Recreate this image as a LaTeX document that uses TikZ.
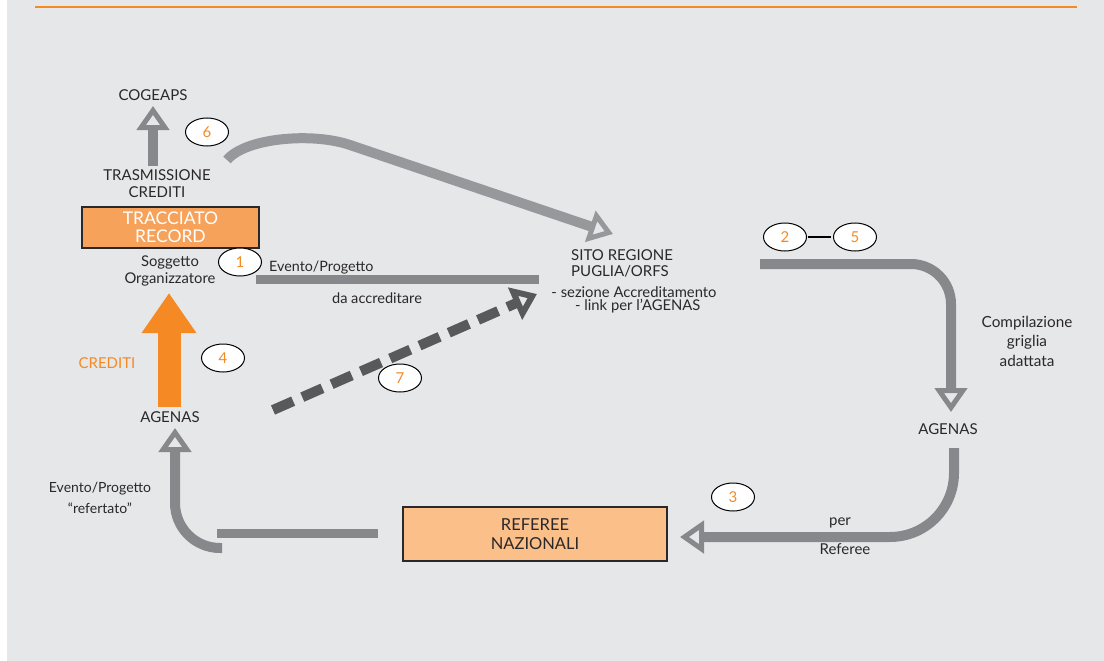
\documentclass[tikz,border=0pt]{standalone}
\usepackage{fontspec}
\setmainfont{Lato}
\usetikzlibrary{arrows.meta,shapes.geometric}
\definecolor{bg}{HTML}{E6E7E9}
\definecolor{org}{HTML}{F58A25}
\definecolor{boxorg}{HTML}{F7A25A}
\definecolor{boxlight}{HTML}{FBBF8A}
\definecolor{g1}{HTML}{87888B}
\definecolor{g2}{HTML}{97989B}
\definecolor{gdark}{HTML}{58595B}
\definecolor{txtc}{HTML}{2A2829}
\begin{document}
\begin{tikzpicture}[x=1pt,y=-1pt,
  lbl/.style={text=txtc, font=\fontsize{15}{18}\selectfont, align=center, inner sep=0pt},
  num/.style={ellipse, draw=black, line width=1pt, fill=white, minimum width=43pt, minimum height=28pt, inner sep=0pt, text=org, font=\fontsize{15}{18}\selectfont},
  flowbox/.style={draw=txtc, line width=2pt, inner sep=0pt, align=center, font=\fontsize{16.5}{18}\selectfont},
  garrow/.style={draw=g1, line width=10pt, -{Triangle[open, length=24pt, width=32pt, line width=5pt]}},
  gline/.style={draw=g1, line width=9pt},
]
\useasboundingbox (0,0) rectangle (1104,661);
\fill[white] (0,0) rectangle (1104,661);
\fill[bg] (7,0) rectangle (1104,661);
\draw[org, line width=2pt] (35,7) -- (1077,7);

% text nodes
\node[lbl] (cogeaps) at (153,95) {COGEAPS};
\node[lbl] (trasm) at (157,184) {TRASMISSIONE\\[-1pt]CREDITI};
\node[flowbox, fill=boxorg, text=white, minimum width=177pt, minimum height=41pt, font=\fontsize{17.5}{18}\selectfont] (tracciato) at (170.5,227.5) {TRACCIATO\\RECORD};
\node[lbl, font=\fontsize{14.8}{16.5}\selectfont] (sogg) at (170,271) {Soggetto\\Organizzatore};
\node[lbl, anchor=west, font=\fontsize{14.3}{16}\selectfont] (evento) at (269,268) {Evento/Progetto};
\node[lbl, font=\fontsize{14.6}{16}\selectfont] (daacc) at (377,298) {da accreditare};
\node[lbl, align=left, anchor=west] (sito) at (571,263) {SITO REGIONE\\[-2pt]PUGLIA/ORFS};
\node[lbl, font=\fontsize{14.8}{13.5}\selectfont] (sez) at (634,300) {- sezione Accreditamento\\\ \ - link per l’AGENAS};
\node[lbl, font=\fontsize{15.3}{19.5}\selectfont] (compil) at (1027,341) {Compilazione\\griglia\\adattata};
\node[lbl] (agenasR) at (948,429) {AGENAS};
\node[lbl, font=\fontsize{15}{16}\selectfont] (per) at (840,523) {per};
\node[lbl, font=\fontsize{15}{16}\selectfont] (referee) at (845,549) {Referee};
\node[flowbox, fill=boxlight, text=txtc, minimum width=264pt, minimum height=54pt] (refnaz) at (535,534) {REFEREE\\[1pt]NAZIONALI};
\node[lbl, font=\fontsize{14}{21}\selectfont] (evref) at (100,498) {Evento/Progetto\\“refertato”};
\node[lbl] (agenasL) at (170,417) {AGENAS};
\node[lbl, text=org] (crediti) at (107,363) {CREDITI};

% numbered ellipses
\node[num] (n1) at (240,262) {1};
\node[num] (n2) at (785,237) {2};
\node[num] (n3) at (733,497) {3};
\node[num] (n4) at (223,358) {4};
\node[num] (n5) at (855,237) {5};
\node[num] (n6) at (207,132) {6};
\node[num] (n7) at (400,378) {7};
\draw[black, line width=1.6pt, shorten >=2.5pt, shorten <=0.5pt] (n2) -- (n5);

% connector end points
\coordinate (cogS) at (153,166);
\coordinate (cogE) at (153,106);
\coordinate (sixS) at (227,160);
\coordinate (sitoIn) at (613,234);
\coordinate (evS) at (256,279);
\coordinate (evE) at (539,279);
\coordinate (dS) at (273,410);
\coordinate (dE) at (537,294);
\coordinate (rS) at (760,264);
\coordinate (rC) at (951,264);
\coordinate (rE) at (951,412);
\coordinate (aS) at (954,448);
\coordinate (aC) at (954,537);
\coordinate (aE) at (680,537);
\coordinate (lS) at (378,533);
\coordinate (lE) at (217,533);
\coordinate (bS) at (222,548);
\coordinate (bC) at (175,548);
\coordinate (bE) at (175,428);
\coordinate (oS) at (169,407);
\coordinate (oE) at (169,293);

% connectors
\draw[garrow] (cogS) -- (cogE);
\draw[draw=g2, line width=10pt, -{Triangle[open, length=24pt, width=32pt, line width=5pt]}]
  (sixS) .. controls (245,138) and (312,132) .. (350,145) -- (sitoIn);
\draw[gline] (evS) -- (evE);
\draw[draw=gdark, line width=10pt, dash pattern=on 22pt off 10pt, -{Triangle[open, length=24pt, width=34pt, line width=6pt]}] (dS) -- (dE);
\draw[garrow, rounded corners=40pt] (rS) -- (rC) -- (rE);
\draw[garrow, rounded corners=64pt] (aS) -- (aC) -- (aE);
\draw[gline] (lS) -- (lE);
\draw[garrow, rounded corners=45pt] (bS) -- (bC) -- (bE);
\draw[draw=org, line width=23pt, -{Triangle[length=40pt, width=52pt]}] (oS) -- (oE);
\end{tikzpicture}
\end{document}
